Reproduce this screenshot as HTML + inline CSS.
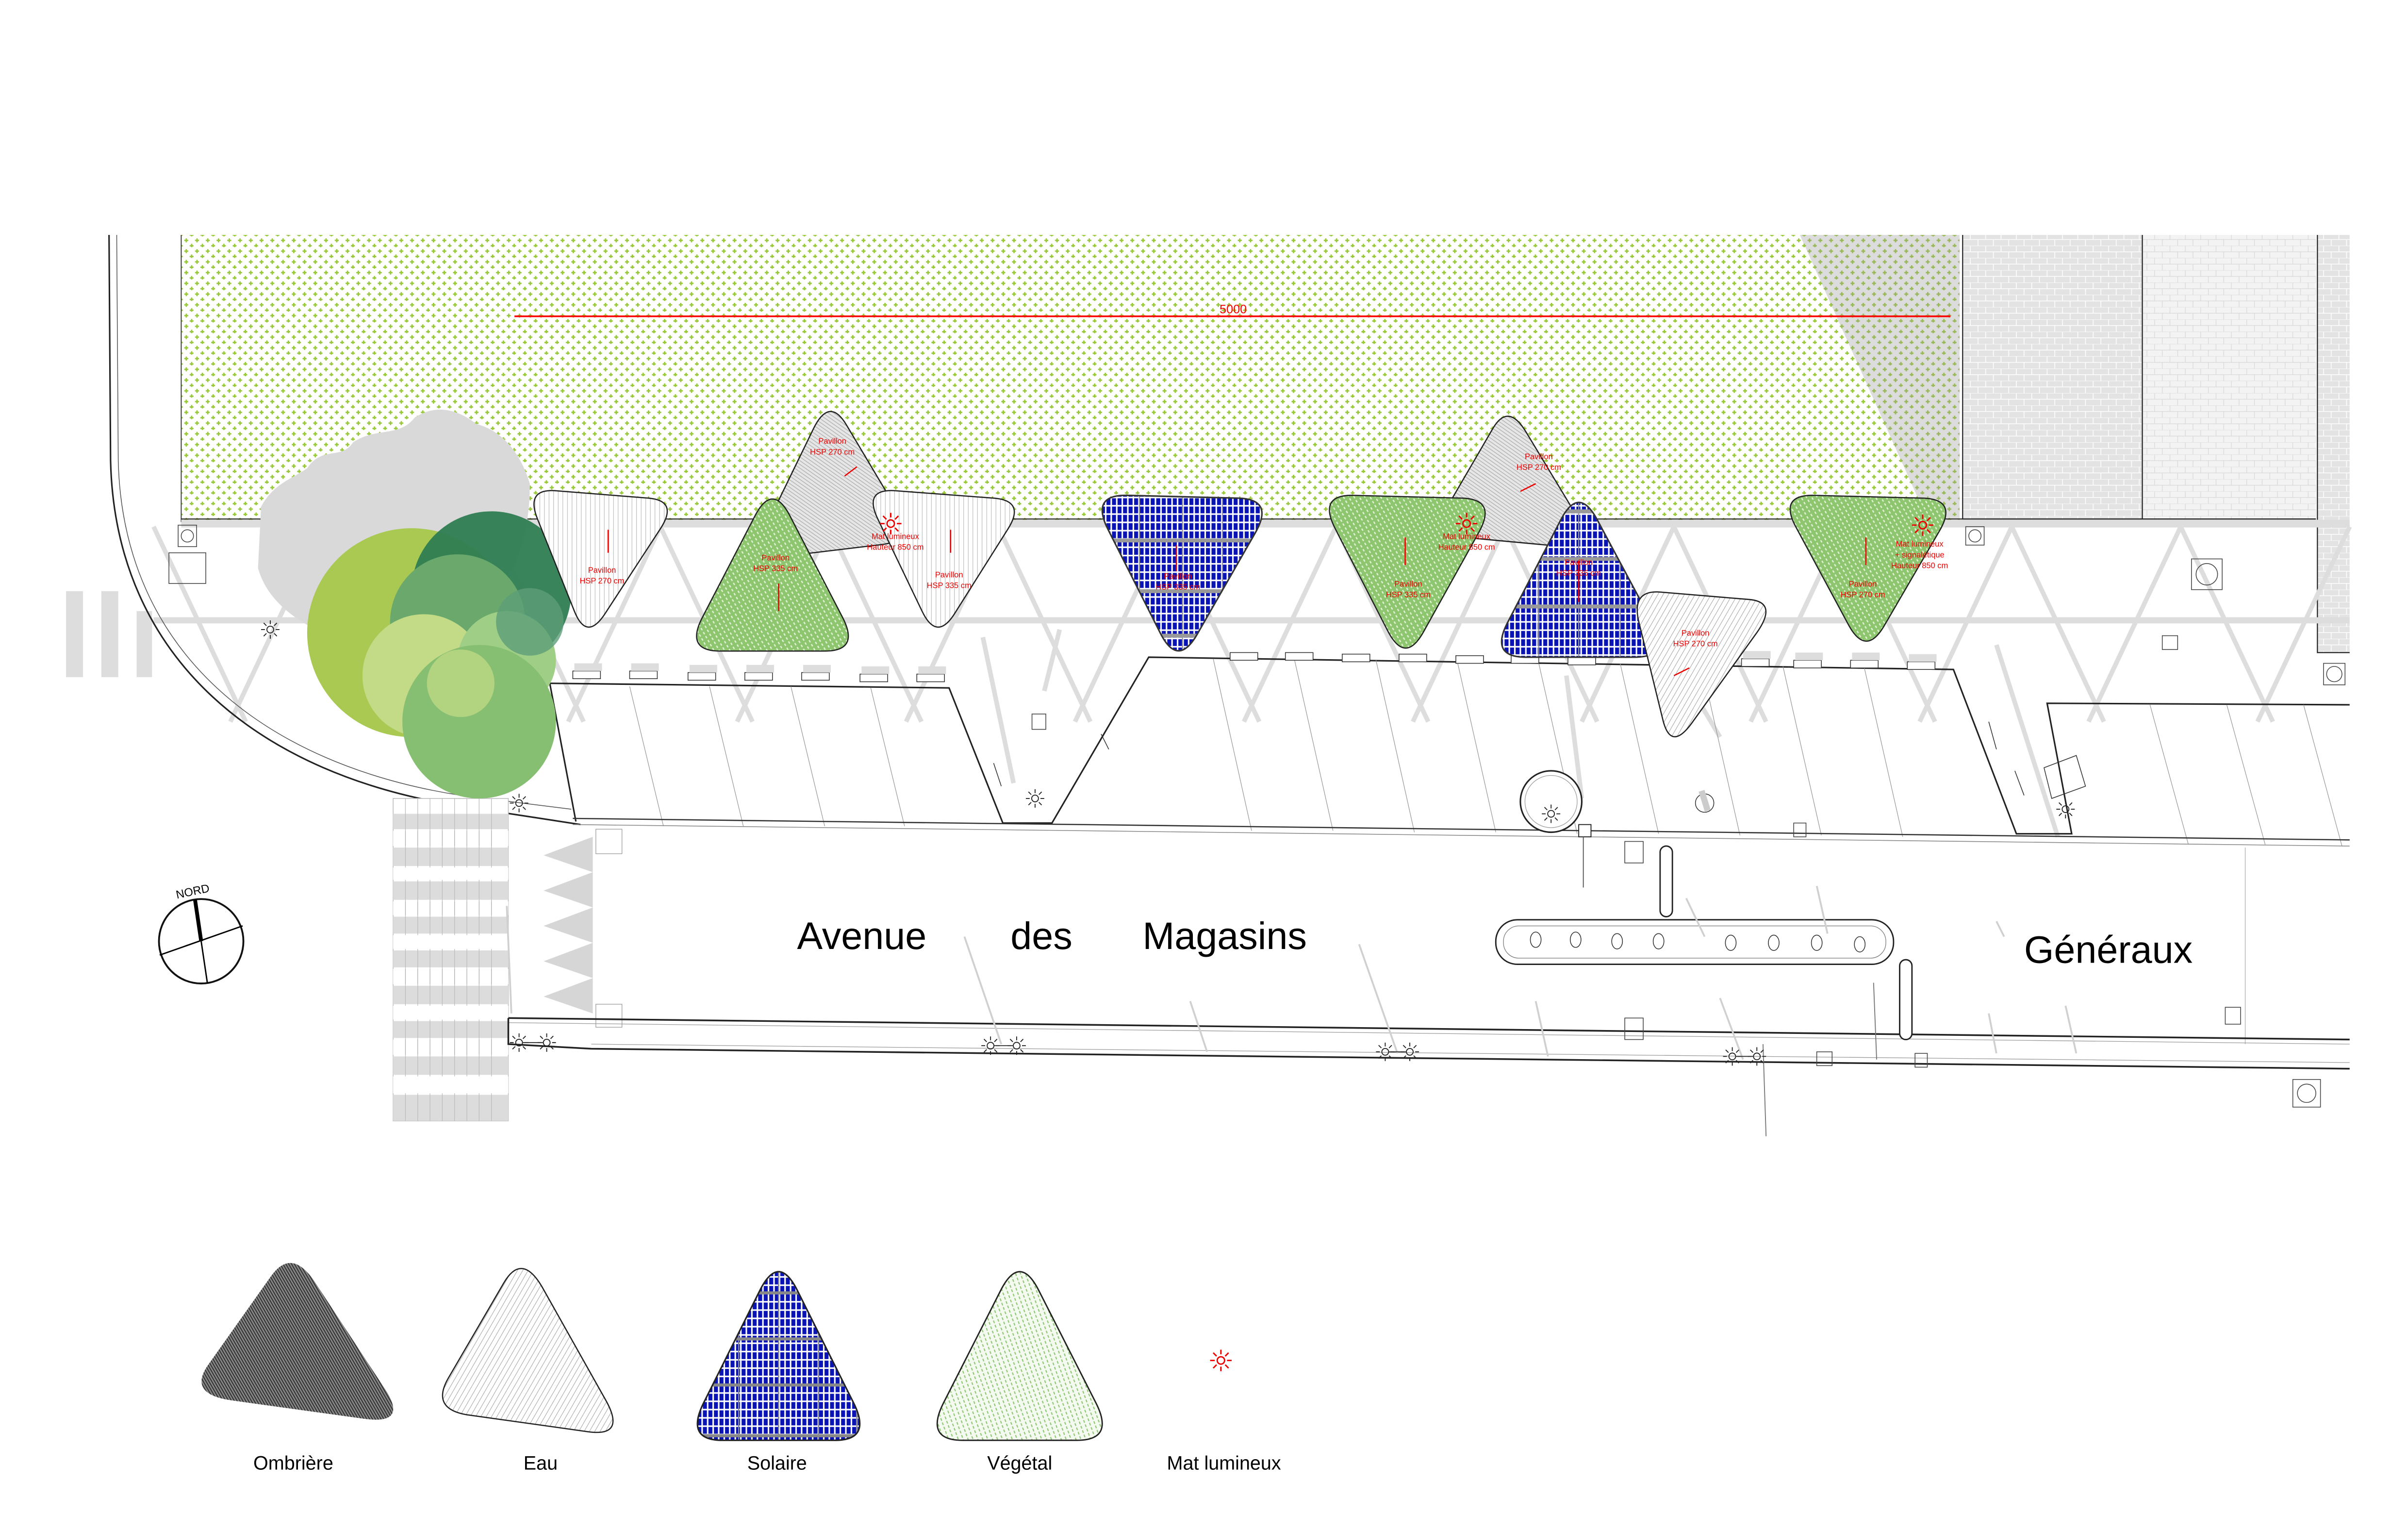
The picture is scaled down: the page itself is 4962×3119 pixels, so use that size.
<!DOCTYPE html>
<html><head><meta charset="utf-8"><style>
html,body{margin:0;padding:0;background:#fff;overflow:hidden;}
svg{display:block;}
text{font-family:"Liberation Sans",sans-serif;}
</style></head><body>
<svg width="4962" height="3119" viewBox="0 0 1568 986" preserveAspectRatio="none" xmlns="http://www.w3.org/2000/svg">
<defs>
<pattern id="field" patternUnits="userSpaceOnUse" width="7" height="7">
<rect width="7" height="7" fill="#fff"/>
<rect x="1" y="2.1" width="2.6" height="0.9" fill="#98c83a"/><rect x="1.85" y="1.25" width="0.9" height="2.6" fill="#98c83a"/>
<rect x="4.5" y="5.6" width="2.6" height="0.9" fill="#98c83a"/><rect x="5.35" y="4.75" width="0.9" height="2.6" fill="#98c83a"/>
</pattern>
<pattern id="eau" patternUnits="userSpaceOnUse" width="3" height="3">
<rect width="3" height="3" fill="#fff"/><line x1="0.5" y1="0" x2="0.5" y2="3" stroke="#aaa" stroke-width="0.3"/>
</pattern>
<pattern id="eau2" patternUnits="userSpaceOnUse" width="3" height="3" patternTransform="rotate(30)">
<rect width="3" height="3" fill="#fff"/><line x1="0.5" y1="0" x2="0.5" y2="3" stroke="#999" stroke-width="0.3"/>
</pattern>
<pattern id="omb" patternUnits="userSpaceOnUse" width="2" height="2" patternTransform="rotate(35)">
<rect width="2" height="2" fill="#e6e6e6"/><line x1="0" y1="1" x2="2" y2="1" stroke="#aaa" stroke-width="0.4"/>
</pattern>
<pattern id="ombd" patternUnits="userSpaceOnUse" width="1.6" height="1.6" patternTransform="rotate(60)">
<rect width="1.6" height="1.6" fill="#888"/><line x1="0" y1="0.8" x2="1.6" y2="0.8" stroke="#333" stroke-width="0.7"/>
</pattern>
<pattern id="veg" patternUnits="userSpaceOnUse" width="3" height="3" patternTransform="rotate(60)">
<rect width="3" height="3" fill="#8ec66f"/><rect x="0.5" y="0.8" width="1.6" height="0.8" fill="#e3f2d8"/>
</pattern>
<pattern id="vegl" patternUnits="userSpaceOnUse" width="3" height="3" patternTransform="rotate(70)">
<rect width="3" height="3" fill="#f4faef"/><rect x="0.4" y="0.9" width="1.8" height="0.7" fill="#8cc672"/>
</pattern>
<pattern id="sol" patternUnits="userSpaceOnUse" width="3.6" height="5.4">
<rect width="3.6" height="5.4" fill="#fff"/><rect x="0.5" y="0.5" width="2.6" height="4.4" fill="#0a14b4"/>
</pattern>
<pattern id="pave" patternUnits="userSpaceOnUse" width="10" height="8">
<rect width="10" height="8" fill="#e3e3e3"/><path d="M0 0H10M0 4H10M3 0V4M8 4V8" stroke="#fff" stroke-width="0.5"/>
</pattern>
<pattern id="pave2" patternUnits="userSpaceOnUse" width="10" height="8">
<rect width="10" height="8" fill="#f3f3f3"/><path d="M0 0H10M0 4H10M3 0V4M8 4V8" stroke="#d8d8d8" stroke-width="0.4"/>
</pattern>
<g id="sun" fill="none" stroke="#e00" stroke-width="0.9">
<circle r="2.4"/><path d="M0,-4V-7M0,4V7M-4,0H-7M4,0H7M2.8,-2.8L5,-5M-2.8,-2.8L-5,-5M2.8,2.8L5,5M-2.8,2.8L-5,5"/>
</g>
<g id="lamp" fill="none" stroke="#222" stroke-width="0.6">
<circle r="2.2"/><path d="M0,-3.5V-6M0,3.5V6M-3.5,0H-6M3.5,0H6M2.5,-2.5L4.3,-4.3M-2.5,-2.5L-4.3,-4.3M2.5,2.5L4.3,4.3M-2.5,2.5L-4.3,4.3"/>
</g>
<path id="p5" d="M734,322.6 L806,324.4 Q830,325 817.4,347 L779.6,413 Q767,435 755.6,412.4 L721.4,344.6 Q710,322 734,322.6Z"/>
<path id="p8" d="M1040,338.4 L1076,405.6 Q1088,428 1064.4,428 L993.6,428 Q970,428 981.6,405.6 L1016.4,338.4 Q1028,316 1040,338.4Z"/>
<path id="l3" d="M519.2,840.4 L555.8,913.6 Q568,938 543.6,938 L470.4,938 Q446,938 458.2,913.6 L494.8,840.4 Q507,816 519.2,840.4Z"/>
<clipPath id="c5"><use href="#p5"/></clipPath>
<clipPath id="c8"><use href="#p8"/></clipPath>
<clipPath id="cl3"><use href="#l3"/></clipPath>
</defs>

<rect x="118" y="153" width="1158" height="187" fill="url(#field)"/>
<polygon points="1172,153 1276,153 1276,338 1255,338" fill="#9a9a9a" opacity="0.35"/>
<line x1="118" y1="153" x2="118" y2="340" stroke="#333" stroke-width="0.6"/>
<rect x="1278" y="153" width="117" height="185" fill="url(#pave)"/>
<rect x="1395" y="153" width="113" height="185" fill="url(#pave2)"/>
<rect x="1509" y="153" width="21" height="272" fill="url(#pave)"/>
<path d="M1278,153V338H1508M1395,153V338M1509,153V425H1530" fill="none" stroke="#222" stroke-width="0.7"/>

<line x1="335" y1="206" x2="1270" y2="206" stroke="#f00" stroke-width="1.1"/>
<text x="803" y="204" font-size="8" fill="#f00" text-anchor="middle">5000</text>

<line x1="118" y1="341" x2="1530" y2="341" stroke="#ddd" stroke-width="5"/>
<line x1="118" y1="338" x2="1508" y2="338" stroke="#222" stroke-width="0.7"/>
<line x1="100" y1="404" x2="1530" y2="404" stroke="#ddd" stroke-width="4"/>
<g stroke="#ddd" stroke-width="3">
<path d="M100,343L160,470M210,343L270,470M320,343L380,470M430,343L490,470M540,343L600,470M650,343L710,470M760,343L820,470M870,343L930,470M980,343L1040,470M1090,343L1150,470M1200,343L1260,470M1310,343L1370,470M1420,343L1480,470"/>
<path d="M210,343L150,470M320,343L260,470M430,343L370,470M540,343L480,470M650,343L590,470M760,343L700,470M870,343L810,470M980,343L920,470M1090,343L1030,470M1200,343L1140,470M1310,343L1250,470M1420,343L1360,470M1530,343L1470,470"/>
<path d="M1040,345L1120,480M1300,420L1340,545M640,415L660,510M690,410L680,450M1020,440L1030,520"/>
</g>
<rect x="43" y="385" width="11" height="56" fill="#ddd"/>
<rect x="66" y="385" width="11" height="56" fill="#ddd"/>
<rect x="89" y="398" width="10" height="43" fill="#ddd"/>

<path d="M71,153 L72,300 C75,430 170,505 300,525 L378,537" fill="none" stroke="#222" stroke-width="1"/>
<path d="M76,153 L77,300 C80,425 172,498 300,518 L372,527" fill="none" stroke="#555" stroke-width="0.5"/>

<rect x="256" y="520" width="75" height="210" fill="#fff" stroke="#bbb" stroke-width="0.5"/>
<g fill="#dcdcdc">
<rect x="256" y="530" width="75" height="10"/><rect x="256" y="552" width="75" height="12"/><rect x="256" y="574" width="75" height="12"/><rect x="256" y="597" width="75" height="11"/><rect x="256" y="619" width="75" height="11"/><rect x="256" y="642" width="75" height="12"/><rect x="256" y="665" width="75" height="11"/><rect x="256" y="688" width="75" height="12"/><rect x="256" y="713" width="75" height="17"/>
</g>
<g stroke="#bbb" stroke-width="0.4">
<path d="M264,520V730M272,520V730M280,520V730M288,520V730M296,520V730M304,520V730M312,520V730M320,520V730"/>
</g>
<g fill="#fff"><rect x="256" y="541" width="75" height="10"/><rect x="256" y="565" width="75" height="8"/><rect x="256" y="587" width="75" height="9"/><rect x="256" y="609" width="75" height="9"/><rect x="256" y="631" width="75" height="10"/><rect x="256" y="655" width="75" height="9"/><rect x="256" y="677" width="75" height="10"/><rect x="256" y="701" width="75" height="11"/></g>
<g stroke="#aaa" stroke-width="0.4"><path d="M264,541V551M272,541V551M280,541V551M288,541V551M296,541V551M304,541V551M312,541V551M320,541V551M264,587V596M272,587V596M280,587V596M288,587V596M296,587V596M304,587V596M312,587V596M320,587V596M264,631V641M272,631V641M280,631V641M288,631V641M296,631V641M304,631V641M312,631V641M320,631V641M264,677V687M272,677V687M280,677V687M288,677V687M296,677V687M304,677V687M312,677V687M320,677V687"/></g>
<path d="M386,545 L354,557 L386,568 L354,580 L386,591 L354,603 L386,614 L354,626 L386,637 L354,649 L386,660 Z" fill="#d6d6d6"/>
<rect x="388" y="540" width="17" height="16" fill="#fff" stroke="#999" stroke-width="0.4"/>
<rect x="388" y="654" width="17" height="15" fill="#fff" stroke="#999" stroke-width="0.4"/>

<path d="M358,445 L618,448 L653,536 L685,536 L748,428 L1272,436 L1313,543 L1349,543 L1333,458 L1530,459" fill="none" stroke="#222" stroke-width="1"/>
<path d="M358,445 L375,535" fill="none" stroke="#222" stroke-width="1"/>
<g stroke="#999" stroke-width="0.4">
<path d="M410,447L432,538M462,447L484,538M515,447L537,538M567,448L589,538"/>
<path d="M790,429L815,541M843,430L868,541M896,430L921,542M949,431L974,542M1002,432L1027,543M1055,432L1080,543M1108,433L1133,544M1161,434L1186,544M1214,435L1239,545"/>
<path d="M1400,459L1425,550M1450,459L1475,550M1500,459L1525,551"/>
</g>
<path d="M373,533 L1530,547" stroke="#333" stroke-width="0.8" fill="none"/>
<path d="M373,537 L1530,551" stroke="#888" stroke-width="0.5" fill="none"/>
<line x1="1462" y1="552" x2="1462" y2="680" stroke="#aaa" stroke-width="0.4"/>
<path d="M331,663 L1530,677" stroke="#222" stroke-width="1.1" fill="none"/>
<path d="M331,666 L1530,680" stroke="#999" stroke-width="0.4" fill="none"/>
<path d="M331,663 L331,680 L385,683 L1530,696" stroke="#222" stroke-width="1.1" fill="none"/>
<path d="M385,680 L1530,692" stroke="#999" stroke-width="0.4" fill="none"/>

<g fill="#fff" stroke="#333" stroke-width="0.5">
<rect x="373" y="437" width="18" height="5"/><rect x="410" y="437" width="18" height="5"/><rect x="448" y="438" width="18" height="5"/><rect x="485" y="438" width="18" height="5"/><rect x="522" y="438" width="18" height="5"/><rect x="560" y="439" width="18" height="5"/><rect x="597" y="439" width="18" height="5"/>
<rect x="801" y="425" width="18" height="5"/><rect x="837" y="425" width="18" height="5"/><rect x="874" y="426" width="18" height="5"/><rect x="911" y="426" width="18" height="5"/><rect x="948" y="427" width="18" height="5"/><rect x="984" y="427" width="18" height="5"/><rect x="1021" y="428" width="18" height="5"/><rect x="1134" y="429" width="18" height="5"/><rect x="1168" y="430" width="18" height="5"/><rect x="1205" y="430" width="18" height="5"/><rect x="1242" y="431" width="18" height="5"/>
</g>
<g fill="#ddd"><rect x="374" y="432" width="18" height="5"/><rect x="411" y="432" width="18" height="5"/><rect x="449" y="433" width="18" height="5"/><rect x="486" y="433" width="18" height="5"/><rect x="523" y="433" width="18" height="5"/><rect x="561" y="434" width="18" height="5"/><rect x="598" y="434" width="18" height="5"/><rect x="1135" y="424" width="18" height="5"/><rect x="1169" y="425" width="18" height="5"/><rect x="1206" y="425" width="18" height="5"/><rect x="1243" y="426" width="18" height="5"/></g>

<g fill="none" stroke="#444" stroke-width="0.5">
<rect x="110" y="360" width="24" height="20"/><rect x="116" y="342" width="12" height="14"/><circle cx="122" cy="349" r="4"/>
<rect x="1427" y="364" width="20" height="20"/><circle cx="1437" cy="374" r="7"/>
<rect x="1408" y="414" width="10" height="9"/><rect x="1280" y="343" width="12" height="12"/><circle cx="1286" cy="349" r="4"/>
<rect x="1513" y="432" width="14" height="14"/><circle cx="1520" cy="439" r="5"/>
<rect x="1493" y="703" width="18" height="18"/><circle cx="1502" cy="712" r="6"/>
<rect x="1449" y="656" width="10" height="11"/><rect x="1183" y="685" width="10" height="9"/><rect x="1247" y="686" width="8" height="9"/>
<rect x="672" y="465" width="9" height="10"/><rect x="1058" y="548" width="12" height="14"/><rect x="1058" y="663" width="12" height="14"/>
<rect x="1168" y="536" width="8" height="9"/>
</g>
<circle cx="1010" cy="522" r="20" fill="#fff" stroke="#222" stroke-width="1"/>
<circle cx="1010" cy="522" r="17" fill="none" stroke="#999" stroke-width="0.4"/>
<rect x="1028" y="537" width="8" height="8" fill="#fff" stroke="#222" stroke-width="0.6"/>
<line x1="1031" y1="545" x2="1031" y2="578" stroke="#555" stroke-width="0.6"/>
<circle cx="1110" cy="523" r="6" fill="#fff" stroke="#333" stroke-width="0.5"/>
<path d="M1108,515 L1112,528" stroke="#ccc" stroke-width="4"/>
<g fill="#fff" stroke="#222" stroke-width="0.9">
<rect x="974" y="599" width="259" height="29" rx="14"/>
<rect x="1081" y="551" width="8" height="46" rx="4"/>
<rect x="1237" y="625" width="8" height="52" rx="4"/>
</g>
<rect x="979" y="603" width="249" height="21" rx="10" fill="none" stroke="#777" stroke-width="0.4"/>
<g fill="#fff" stroke="#333" stroke-width="0.5">
<ellipse cx="1000" cy="612" rx="3.5" ry="5"/><ellipse cx="1026" cy="612" rx="3.5" ry="5"/><ellipse cx="1053" cy="613" rx="3.5" ry="5"/><ellipse cx="1080" cy="613" rx="3.5" ry="5"/><ellipse cx="1127" cy="614" rx="3.5" ry="5"/><ellipse cx="1155" cy="614" rx="3.5" ry="5"/><ellipse cx="1183" cy="614" rx="3.5" ry="5"/><ellipse cx="1211" cy="615" rx="3.5" ry="5"/>
</g>
<g stroke="#d0d0d0" stroke-width="1.2">
<path d="M628,610 L652,680M885,615L910,686M1098,585L1110,610M1183,577L1190,608M1295,660L1300,686M1345,655L1352,686M1120,650L1135,690M775,652L786,685M1000,652L1008,688M330,590L333,660M1300,600L1305,610"/>
<path d="M1148,680 L1150,740M1220,640L1222,690" stroke="#777" stroke-width="0.6"/>
</g>
<g fill="none" stroke="#333" stroke-width="0.5">
<path d="M1331,500L1352,492L1358,512L1336,520Z"/><path d="M1312,502L1318,518M1295,470L1300,488M717,478L722,488M647,497L652,512"/>
</g>
<use href="#lamp" x="338" y="679"/><use href="#lamp" x="356" y="679"/>
<use href="#lamp" x="645" y="681"/><use href="#lamp" x="662" y="681"/>
<use href="#lamp" x="902" y="685"/><use href="#lamp" x="918" y="685"/>
<use href="#lamp" x="1128" y="688"/><use href="#lamp" x="1144" y="688"/>
<use href="#lamp" x="1010" y="530"/><use href="#lamp" x="1345" y="527"/><use href="#lamp" x="674" y="520"/><use href="#lamp" x="338" y="523"/><use href="#lamp" x="176" y="410"/>
<g stroke="#333" stroke-width="0.6"><path d="M340,679H354M647,681H660M904,685H916M1130,688H1142"/></g>

<path d="M170,330 C178,315 190,312 200,305 C210,290 222,300 230,288 C245,278 260,285 270,272 C285,262 300,268 310,276 C325,280 338,292 345,315 C345,340 340,360 330,380 L310,420 L230,420 C200,410 175,395 168,370 Z" fill="#d9d9d9"/>
<circle cx="268" cy="412" r="68" fill="#a9c953"/>
<circle cx="320" cy="385" r="52" fill="#2f7d52" opacity="0.95"/>
<circle cx="298" cy="405" r="44" fill="#6aa86c"/>
<circle cx="276" cy="440" r="40" fill="#c3da86"/>
<circle cx="330" cy="430" r="32" fill="#9fcf86"/>
<circle cx="312" cy="470" r="50" fill="#86bf71"/>
<circle cx="300" cy="445" r="22" fill="#b2d37f"/>
<circle cx="345" cy="405" r="22" fill="#5d9e78" opacity="0.8"/>

<path d="M551.2,276.8 L584.8,333.2 Q596,352 574.4,354.6 L509.6,362.4 Q488,365 498.4,343.6 L529.6,279.4 Q540,258 551.2,276.8Z" fill="url(#omb)" stroke="#222" stroke-width="0.8"/>
<path d="M993.6,281.2 L1028.4,338.8 Q1040,358 1018.4,356 L953.6,350 Q932,348 942,330.8 L972,279.2 Q982,262 993.6,281.2Z" fill="url(#omb)" stroke="#222" stroke-width="0.8"/>
<path d="M362,319.6 L422,324.4 Q442,326 430,344.4 L394,399.6 Q382,418 374,398 L350,338 Q342,318 362,319.6Z" fill="url(#eau)" stroke="#222" stroke-width="0.8"/>
<path d="M514.4,336 L548.6,402 Q560,424 537.2,424 L468.8,424 Q446,424 457.4,402 L491.6,336 Q503,314 514.4,336Z" fill="url(#veg)" stroke="#222" stroke-width="0.8"/>
<path d="M583.2,319.6 L646.8,324.4 Q668,326 656.4,344.4 L621.6,399.6 Q610,418 600.4,398 L571.6,338 Q562,318 583.2,319.6Z" fill="url(#eau)" stroke="#222" stroke-width="0.8"/>
<g clip-path="url(#c5)"><rect x="700" y="315" width="140" height="125" fill="url(#sol)"/>
<path d="M700,352H840M700,385H840M700,414H840" stroke="#999" stroke-width="2.5"/><path d="M742,320V440M770,320V440M796,320V440" stroke="#999" stroke-width="0.7"/></g>
<use href="#p5" fill="none" stroke="#333" stroke-width="1"/>
<path d="M881.4,322.6 L951.6,324.4 Q975,325 963,346.6 L927,411.4 Q915,433 903.6,410.8 L869.4,344.2 Q858,322 881.4,322.6Z" fill="url(#veg)" stroke="#222" stroke-width="0.8"/>
<g clip-path="url(#c8)"><rect x="965" y="310" width="130" height="125" fill="url(#sol)"/>
<path d="M965,333H1095M965,364H1095M965,395H1095" stroke="#999" stroke-width="2.5"/><path d="M1002,310V435M1028,310V435M1055,310V435" stroke="#999" stroke-width="0.7"/></g>
<use href="#p8" fill="none" stroke="#333" stroke-width="1"/>
<path d="M1081.2,385.6 L1138.8,390.4 Q1158,392 1144,412 L1102,470.4 Q1088,490 1082.8,468.8 L1067.2,405.2 Q1062,384 1081.2,385.6Z" fill="url(#eau2)" stroke="#222" stroke-width="0.8"/>
<path d="M1181.4,322.6 L1251.6,324.4 Q1275,325 1263,345.6 L1227,407.4 Q1215,428 1203.6,406.8 L1169.4,343.2 Q1158,322 1181.4,322.6Z" fill="url(#veg)" stroke="#222" stroke-width="0.8"/>

<g font-size="5.2" fill="#e00" text-anchor="middle">
<text x="392" y="373">Pavillon</text><text x="392" y="380">HSP 270 cm</text>
<text x="542" y="289">Pavillon</text><text x="542" y="296">HSP 270 cm</text>
<text x="505" y="365">Pavillon</text><text x="505" y="372">HSP 335 cm</text>
<text x="618" y="376">Pavillon</text><text x="618" y="383">HSP 335 cm</text>
<text x="767" y="377">Pavillon</text><text x="767" y="384">HSP 335 cm</text>
<text x="917" y="382">Pavillon</text><text x="917" y="389">HSP 335 cm</text>
<text x="1002" y="299">Pavillon</text><text x="1002" y="306">HSP 270 cm</text>
<text x="1028" y="368">Pavillon</text><text x="1028" y="375">HSP 335 cm</text>
<text x="1104" y="414">Pavillon</text><text x="1104" y="421">HSP 270 cm</text>
<text x="1213" y="382">Pavillon</text><text x="1213" y="389">HSP 270 cm</text>
<text x="583" y="351">Mat lumineux</text><text x="583" y="358">Hauteur 850 cm</text>
<text x="955" y="351">Mat lumineux</text><text x="955" y="358">Hauteur 850 cm</text>
<text x="1250" y="356">Mat lumineux</text><text x="1250" y="363">+ signalétique</text><text x="1250" y="370">Hauteur 850 cm</text>
</g>
<use href="#sun" x="580" y="341"/><use href="#sun" x="955" y="341"/><use href="#sun" x="1252" y="342"/>
<g stroke="#e00" stroke-width="0.8"><path d="M396,345V360M619,345V360M915,350V368M1215,350V368M507,380V398M1028,365V392M766,355V372M550,310L558,304M1000,315L990,320M1090,440L1100,435"/></g>

<circle cx="131" cy="613" r="27.5" fill="#fff" stroke="#111" stroke-width="1.2"/>
<line x1="127" y1="586" x2="131" y2="613" stroke="#000" stroke-width="2.5"/>
<line x1="131" y1="613" x2="135" y2="640" stroke="#000" stroke-width="0.9"/>
<line x1="104" y1="622" x2="158" y2="603" stroke="#000" stroke-width="0.9"/>
<text x="126" y="583" font-size="7.5" text-anchor="middle" transform="rotate(-12 126 583)">NORD</text>

<g font-size="25" fill="#000">
<text x="519" y="618">Avenue</text><text x="658" y="618">des</text><text x="744" y="618">Magasins</text><text x="1318" y="627">Généraux</text>
</g>

<path d="M205.2,835.2 L250.8,904.8 Q266,928 237.2,924 L150.8,912 Q122,908 135.6,888.8 L176.4,831.2 Q190,812 205.2,835.2Z" fill="url(#ombd)"/>
<path d="M353.6,839.2 L394.4,911.8 Q408,936 382.8,932.4 L305.6,921.6 Q280,918 292,897.4 L328,835.6 Q340,815 353.6,839.2Z" fill="url(#eau2)" stroke="#222" stroke-width="0.8"/>
<g clip-path="url(#cl3)"><rect x="440" y="810" width="135" height="135" fill="url(#sol)"/>
<path d="M440,842H575M440,872H575M440,902H575M440,935H575" stroke="#888" stroke-width="2"/><path d="M481,810V945M507,810V945M533,810V945M558,810V945" stroke="#888" stroke-width="0.8"/></g>
<use href="#l3" fill="none" stroke="#222" stroke-width="1"/>
<path d="M676.4,840.4 L713.6,913.6 Q726,938 701.2,938 L626.8,938 Q602,938 614.4,913.6 L651.6,840.4 Q664,816 676.4,840.4Z" fill="url(#vegl)" stroke="#222" stroke-width="0.9"/>
<use href="#sun" x="795" y="886"/>
<g font-size="12.5" fill="#000" text-anchor="middle">
<text x="191" y="957">Ombrière</text><text x="352" y="957">Eau</text><text x="506" y="957">Solaire</text><text x="664" y="957">Végétal</text><text x="797" y="957">Mat lumineux</text>
</g>
</svg>
</body></html>
